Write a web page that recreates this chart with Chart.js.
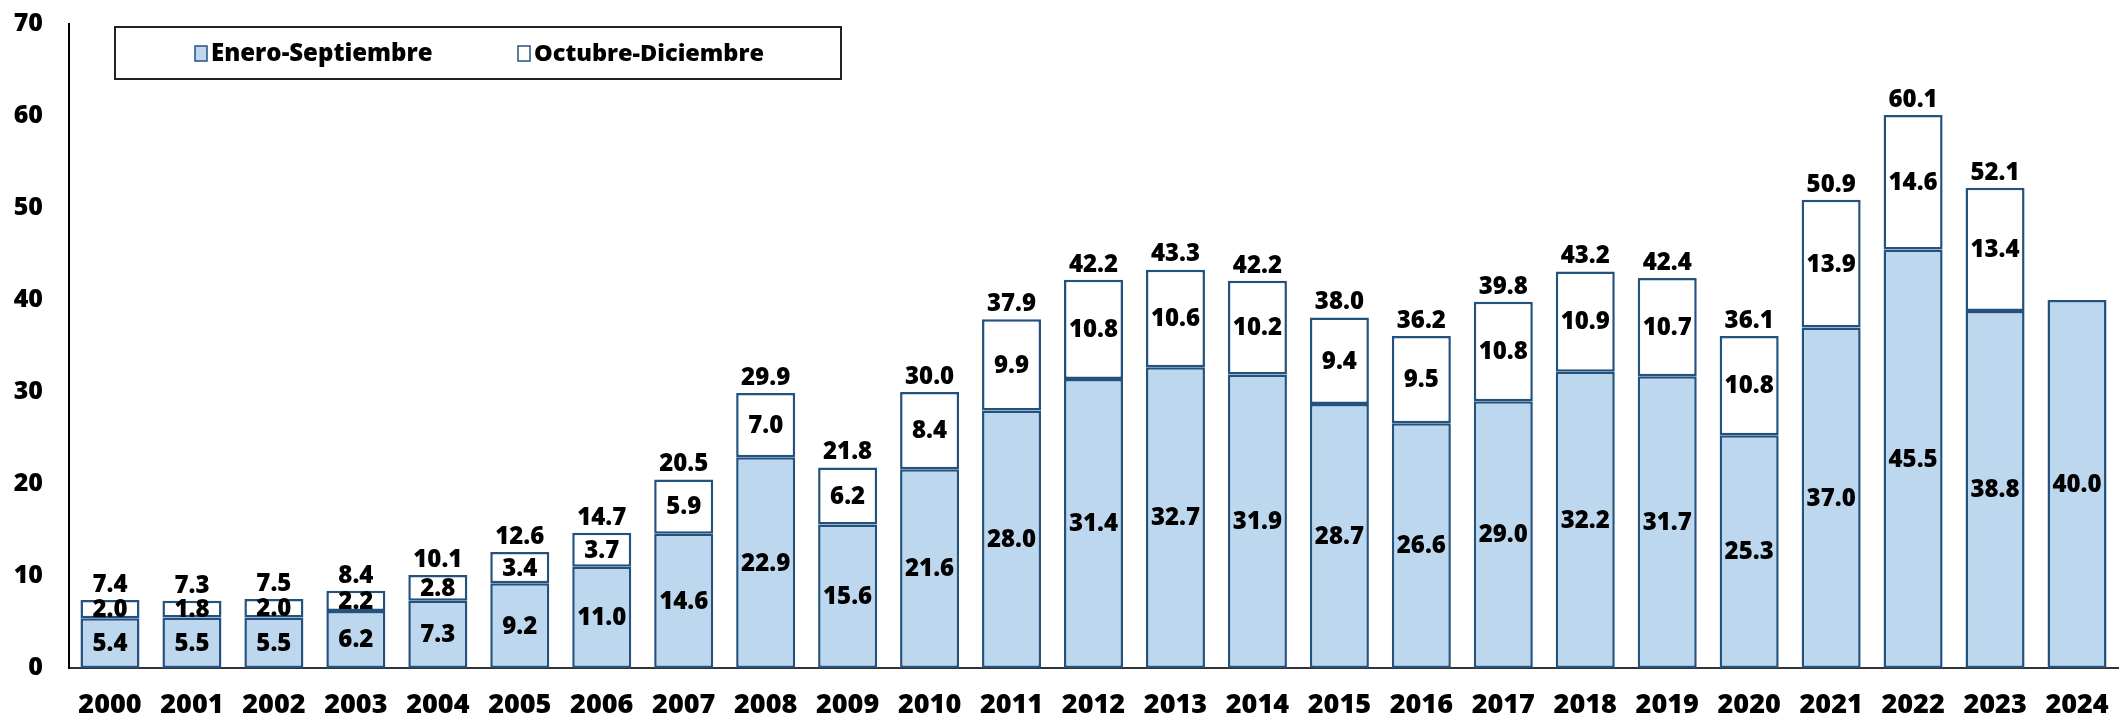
<!DOCTYPE html>
<html>
<head>
<meta charset="utf-8">
<script src="https://cdn.jsdelivr.net/npm/chart.js@4.4.1/dist/chart.umd.min.js"></script>
<style>
  html, body { margin: 0; padding: 0; background: #fff; }
  #wrap { width: 2120px; height: 721px; }
</style>
</head>
<body>
<div id="wrap"><canvas id="myChart" width="2120" height="721"></canvas></div>
<script>
const years = ['2000', '2001', '2002', '2003', '2004', '2005', '2006', '2007', '2008', '2009', '2010', '2011', '2012',
    '2013', '2014', '2015', '2016', '2017', '2018', '2019', '2020', '2021', '2022', '2023', '2024'];
const eneroSep = [5.4, 5.5, 5.5, 6.2, 7.3, 9.2, 11.0, 14.6, 22.9, 15.6, 21.6, 28.0, 31.4,
    32.7, 31.9, 28.7, 26.6, 29.0, 32.2, 31.7, 25.3, 37.0, 45.5, 38.8, 40.0];
const octDic = [2.0, 1.8, 2.0, 2.2, 2.8, 3.4, 3.7, 5.9, 7.0, 6.2, 8.4, 9.9, 10.8,
    10.6, 10.2, 9.4, 9.5, 10.8, 10.9, 10.7, 10.8, 13.9, 14.6, 13.4, null];
// totals as printed above the bars (rounded in source)
const totals = [7.4, 7.3, 7.5, 8.4, 10.1, 12.6, 14.7, 20.5, 29.9, 21.8, 30.0, 37.9, 42.2,
    43.3, 42.2, 38.0, 36.2, 39.8, 43.2, 42.4, 36.1, 50.9, 60.1, 52.1, null];
const yTicks = [0, 10, 20, 30, 40, 50, 60, 70];

const FONT = '"Open Sans", Lato, sans-serif';
const edge = '#24527f';

const labelsPlugin = {
    id: 'barLabels',
    afterDatasetsDraw(chart) {
        const c = chart.ctx;
        c.save();
        c.fillStyle = '#000';
        c.textAlign = 'center';
        c.textBaseline = 'middle';
        c.font = '800 24px ' + FONT;
        chart.data.datasets.forEach((ds, i) => {
            const meta = chart.getDatasetMeta(i);
            meta.data.forEach((bar, j) => {
                if (ds.data[j] == null) return;
                c.fillText(ds.data[j].toFixed(1), bar.x, (bar.y + bar.base) / 2 + 1);
            });
        });
        const top = chart.getDatasetMeta(1).data;
        totals.forEach((t, j) => {
            if (t == null) return;
            c.fillText(t.toFixed(1), top[j].x, top[j].y - 15);
        });
        c.restore();
    }
};

const legendPlugin = {
    id: 'boxLegend',
    afterDraw(chart) {
        const c = chart.ctx;
        c.save();
        c.fillStyle = '#fff';
        c.fillRect(115, 27, 726, 52);
        c.strokeStyle = '#222';
        c.lineWidth = 2;
        c.strokeRect(115, 27, 726, 52);
        c.textBaseline = 'middle';
        c.textAlign = 'left';
        const xs = [195, 518];
        const widths = [226, 232];
        chart.data.datasets.forEach((ds, i) => {
            c.fillStyle = ds.backgroundColor;
            c.fillRect(xs[i], 46, 12, 15);
            c.strokeStyle = ds.borderColor;
            c.lineWidth = 1.5;
            c.strokeRect(xs[i], 46, 12, 15);
            let size = 26;
            c.font = '800 ' + size + 'px ' + FONT;
            while (size > 14 && c.measureText(ds.label).width > widths[i]) {
                size -= 0.5;
                c.font = '800 ' + size + 'px ' + FONT;
            }
            c.fillStyle = '#000';
            c.fillText(ds.label, xs[i] + 16, 54);
        });
        c.restore();
    }
};

new Chart(document.getElementById('myChart').getContext('2d'), {
    type: 'bar',
    data: {
        labels: years,
        datasets: [{
            label: 'Enero-Septiembre',
            data: eneroSep,
            backgroundColor: '#bdd7ee',
            borderColor: edge,
            borderWidth: 2.5,
            borderSkipped: false
        }, {
            label: 'Octubre-Diciembre',
            data: octDic,
            backgroundColor: '#ffffff',
            borderColor: edge,
            borderWidth: 2.5,
            borderSkipped: false
        }]
    },
    options: {
        responsive: false,
        animation: false,
        layout: { padding: { top: 24, right: 2, left: 0, bottom: 0 } },
        datasets: { bar: { categoryPercentage: 1, barPercentage: 0.72 } },
        plugins: { legend: { display: false }, tooltip: { enabled: false } },
        scales: {
            x: {
                stacked: true,
                grid: { display: false, drawTicks: false },
                border: { display: true, color: '#333', width: 2 },
                ticks: { color: '#000', font: { family: FONT, size: 27, weight: 800 }, padding: 21, maxRotation: 0 },
                afterFit(s) {
                    s.height = 53;
                    s.paddingLeft = 0;
                    s.paddingRight = 0;
                }
            },
            y: {
                stacked: true,
                min: 0,
                max: 70,
                grid: { display: false, drawTicks: false },
                border: { display: true, color: '#000', width: 2 },
                afterBuildTicks(s) { s.ticks = yTicks.map(v => ({ value: v })); },
                ticks: { color: '#000', font: { family: FONT, size: 25, weight: 800 }, padding: 26 },
                afterFit(s) {
                    s.width = 69;
                    s.paddingTop = 0;
                    s.paddingBottom = 0;
                }
            }
        }
    },
    plugins: [labelsPlugin, legendPlugin]
});
</script>
</body>
</html>
